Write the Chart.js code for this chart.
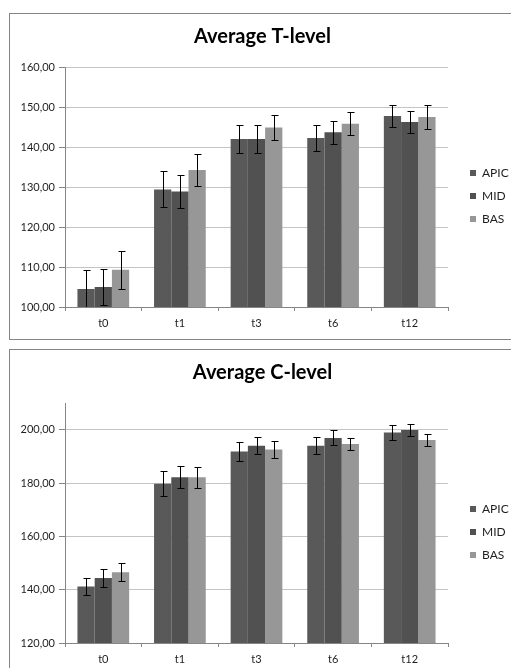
<!DOCTYPE html>
<html><head><meta charset="utf-8">
<script src="https://cdn.jsdelivr.net/npm/chart.js@4"></script>
<style>
html,body{margin:0;padding:0;background:#fff;overflow:hidden;width:511px;height:668px;}
.frame{position:absolute;border:1px solid #858585;box-sizing:border-box;}
#f1{left:9px;top:13px;width:600px;height:327px;}
#f2{left:9px;top:349px;width:600px;height:400px;}
#w1{position:absolute;left:0;top:0;width:525px;height:340px;}
#w2{position:absolute;left:0;top:340px;width:525px;height:328px;}
</style></head><body>
<div class="frame" id="f1"></div><div class="frame" id="f2"></div>
<div id="w1"><canvas id="c1"></canvas></div>
<div id="w2"><canvas id="c2"></canvas></div>
<script>
// ---- data ----
const categories = ['t0', 't1', 't3', 't6', 't12'];
const seriesNames = ['APIC', 'MID', 'BAS'];

const tTitle = 'Average T-level';
const tApic = [104.5, 129.4, 142.0, 142.25, 147.75];
const tMid  = [105.0, 128.9, 142.0, 143.7, 146.25];
const tBas  = [109.3, 134.25, 144.9, 145.8, 147.5];
const tApicErr = [4.8, 4.5, 3.5, 3.25, 2.8];
const tMidErr  = [4.6, 4.2, 3.4, 2.9, 2.75];
const tBasErr  = [4.8, 4.1, 3.2, 2.9, 3.0];
const tTicks = [100, 110, 120, 130, 140, 150, 160];

const cTitle = 'Average C-level';
const cApic = [141.2, 179.7, 191.8, 194.0, 198.9];
const cMid  = [144.4, 182.2, 194.0, 196.9, 199.9];
const cBas  = [146.5, 182.2, 192.6, 194.6, 196.1];
const cApicErr = [3.35, 4.7, 3.4, 3.1, 2.9];
const cMidErr  = [3.3, 4.2, 3.2, 2.8, 2.1];
const cBasErr  = [3.4, 3.9, 3.3, 2.4, 2.25];
const cTicks = [120, 140, 160, 180, 200];
const cAxisMax = 210;

// ---- styles ----
const seriesColors = ['#595959', '#515151', '#979797'];
const FONT = 'Lato, "Open Sans", sans-serif';
const AXIS = '#868686';
const GRID = '#c4c4c4';
const TEXT = '#1e1e1e';
const PLOT_RIGHT = 448;

const errorBars = {
  id: 'errorBars',
  afterDatasetsDraw(chart) {
    const {ctx, chartArea} = chart;
    const ys = chart.scales.y;
    ctx.save();
    ctx.beginPath();
    ctx.rect(chartArea.left, chartArea.top - 1, chartArea.width, chartArea.height + 1);
    ctx.clip();
    ctx.strokeStyle = '#000';
    ctx.lineWidth = 1;
    chart.data.datasets.forEach((ds, i) => {
      const meta = chart.getDatasetMeta(i);
      meta.data.forEach((bar, j) => {
        const v = ds.data[j], e = ds.errors[j];
        const x = Math.round(bar.x) + 0.5;
        const yt = Math.round(ys.getPixelForValue(v + e)) + 0.5;
        const yb = Math.round(ys.getPixelForValue(v - e)) + 0.5;
        ctx.beginPath();
        ctx.moveTo(x, yt); ctx.lineTo(x, yb);
        ctx.moveTo(x - 3, yt); ctx.lineTo(x + 4, yt);
        ctx.moveTo(x - 3, yb); ctx.lineTo(x + 4, yb);
        ctx.stroke();
      });
    });
    ctx.restore();
  }
};

const legendPlace = {
  id: 'legendPlace',
  afterLayout(chart) {
    const lg = chart.legend, ca = chart.chartArea;
    if (!lg) return;
    const w = lg.right - lg.left;
    lg.left = ca.right + 11; lg.right = lg.left + w;
    lg.top = ca.top + 9; lg.bottom = ca.bottom + 9;
  }
};

function fmt(v) { return v.toFixed(2).replace('.', ','); }

function makeChart(id, title, vals, errs, tickVals, yMax, titlePad, padBottom) {
  const yMin = tickVals[0];
  return new Chart(document.getElementById(id), {
    type: 'bar',
    data: {
      labels: categories,
      datasets: seriesNames.map((n, i) => ({
        label: n, data: vals[i], errors: errs[i], yAxisID: 'y',
        backgroundColor: seriesColors[i], borderWidth: 0,
        categoryPercentage: 0.675, barPercentage: 1.0
      }))
    },
    options: {
      responsive: true, maintainAspectRatio: false, animation: false,
      layout: {padding: {left: 10, right: 10, top: 0, bottom: padBottom}},
      plugins: {
        title: {display: true, text: title, color: '#000',
          font: {family: FONT, size: 20, weight: 'bold'}, padding: titlePad},
        legend: {display: true, position: 'right',
          labels: {boxWidth: 6, boxHeight: 6, padding: 11, color: TEXT,
            font: {family: FONT, size: 12}}},
        tooltip: {enabled: false}
      },
      scales: {
        x: {
          grid: {display: true, drawOnChartArea: false, offset: true, tickLength: 4,
            color: AXIS, tickColor: AXIS},
          border: {display: true, color: AXIS},
          ticks: {padding: 6, color: TEXT, font: {family: FONT, size: 11}},
          afterFit(s) { s.height = 24; }
        },
        y: {
          min: yMin, max: yMax,
          afterBuildTicks(s) { s.ticks = tickVals.map(v => ({value: v})); },
          grid: {tickLength: 6, tickColor: AXIS,
            color: c => (c.tick && c.tick.value === yMin) ? 'rgba(0,0,0,0)' : GRID},
          border: {display: true, color: AXIS},
          ticks: {padding: 4, color: TEXT, font: {family: FONT, size: 11},
            callback: v => fmt(v)},
          afterFit(s) { s.width = 55; }
        },
        gap: {
          type: 'linear', position: 'right', display: true,
          grid: {display: false}, ticks: {display: false}, border: {display: false},
          afterFit(s) {
            s.width = Math.max(0, s.chart.width - 10 - s.chart.legend.width - PLOT_RIGHT);
          }
        }
      }
    },
    plugins: [errorBars, legendPlace]
  });
}

makeChart('c1', tTitle, [tApic, tMid, tBas], [tApicErr, tMidErr, tBasErr],
  tTicks, tTicks[tTicks.length - 1], {top: 25, bottom: 18}, 9);
makeChart('c2', cTitle, [cApic, cMid, cBas], [cApicErr, cMidErr, cBasErr],
  cTicks, cAxisMax, {top: 21, bottom: 18}, 1);
</script>
</body></html>
